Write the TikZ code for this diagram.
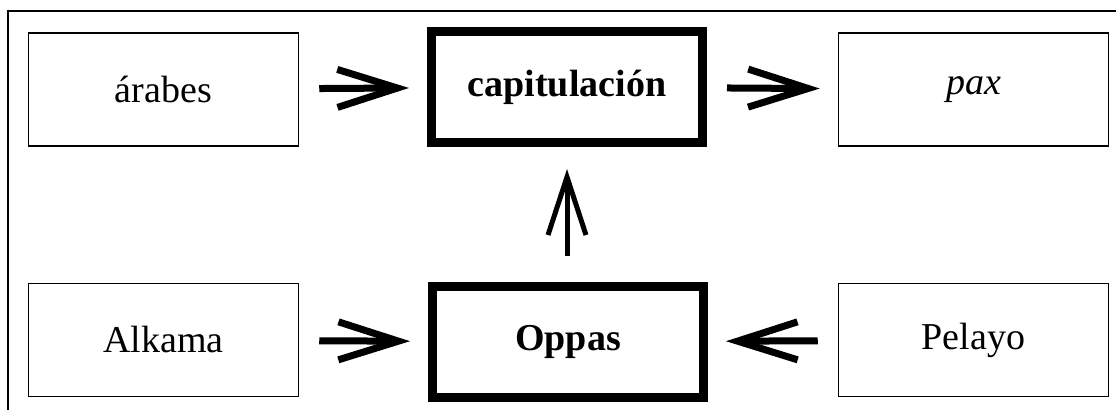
\documentclass[tikz,border=0pt]{standalone}
\usepackage{fontspec}
\setmainfont{Liberation Serif}
\usetikzlibrary{arrows.meta}

\begin{document}
\begin{tikzpicture}[
    x=0.5pt, y=-0.5pt,
    box/.style={rectangle, draw, line width=0.75pt, minimum width=135pt, minimum height=56.5pt, align=center, font=\fontsize{19}{23}\selectfont},
    keybox/.style={box, line width=4.5pt, minimum width=135.5pt, minimum height=55.5pt, font=\fontsize{19}{23}\selectfont\bfseries},
    arrow/.style={-{Straight Barb[length=30pt, width=19pt]}, line width=3.5pt, shorten <=10pt, shorten >=9pt},
    uparrow/.style={-{Straight Barb[length=29pt, width=19pt]}, line width=2.5pt, shorten <=13pt, shorten >=11pt}
]
    \useasboundingbox (0,0) rectangle (1116,410);
    \draw[line width=1pt] (1125,11) -- (8,11) -- (8,420);

    \node[box] (arabes) at (163.5,89.5) {árabes};
    \node[keybox] (cap) at (567,87) {capitulación};
    \node[box] (pax) at (973.5,89.5) {\itshape pax};
    \node[box] (alkama) at (163.5,340) {Alkama};
    \node[keybox] (oppas) at (568,342) {Oppas};
    \node[box] (pelayo) at (973.5,340) {Pelayo};

    \draw[arrow] (arabes) -- (cap);
    \draw[arrow] (cap) -- (pax);
    \draw[uparrow] (oppas.north -| cap) -- (cap);
    \draw[arrow] (alkama) -- (oppas);
    \draw[arrow] (pelayo) -- (oppas);
\end{tikzpicture}
\end{document}
